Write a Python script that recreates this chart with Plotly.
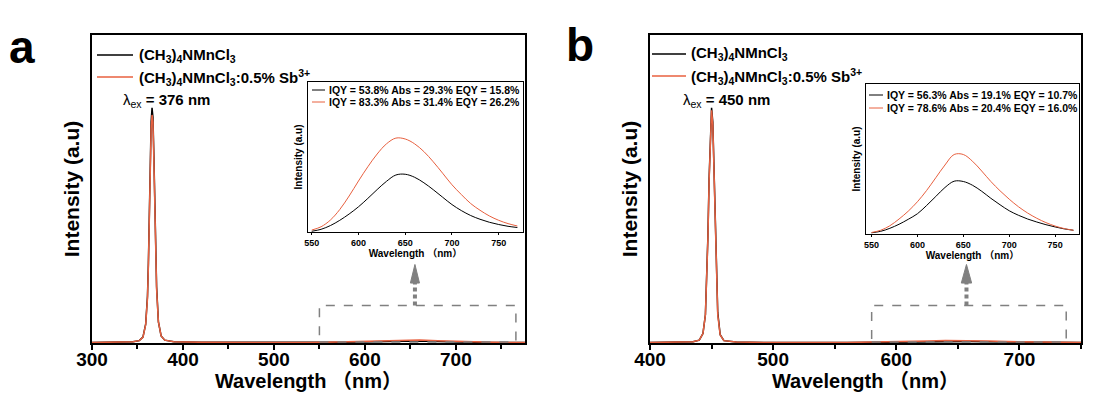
import plotly.graph_objects as go

# ---------------- data ----------------
# Panel a main spectra (excitation 376 nm)
wl_a = [300, 330, 345, 352, 356, 359, 361, 362, 363, 364, 365, 366, 367, 368, 369, 370, 371, 373, 376, 380,
        390, 420, 480, 540, 570, 590, 610, 630, 645, 660, 680, 700, 720, 740, 760, 776]
blk_a = [0.002, 0.003, 0.005, 0.01, 0.025, 0.08, 0.2, 0.34, 0.55, 0.78, 0.94, 1.0, 0.96, 0.8, 0.6, 0.4, 0.24, 0.09, 0.03, 0.012,
         0.005, 0.003, 0.002, 0.002, 0.003, 0.004, 0.006, 0.008, 0.009, 0.008, 0.006, 0.004, 0.003, 0.002, 0.002, 0.002]
red_a = [0.002, 0.003, 0.005, 0.01, 0.024, 0.078, 0.19, 0.33, 0.53, 0.75, 0.91, 0.97, 0.94, 0.78, 0.58, 0.39, 0.23, 0.09, 0.03, 0.012,
         0.005, 0.003, 0.002, 0.002, 0.004, 0.006, 0.01, 0.013, 0.014, 0.013, 0.01, 0.007, 0.005, 0.003, 0.002, 0.002]

# Panel b main spectra (excitation 450 nm)
wl_b = [400, 425, 435, 440, 443, 445, 446, 447, 448, 449, 450, 451, 452, 453, 454, 455, 457, 460, 470, 500,
        560, 590, 610, 625, 640, 650, 660, 675, 690, 710, 730, 750]
blk_b = [0.002, 0.003, 0.005, 0.012, 0.04, 0.12, 0.25, 0.45, 0.7, 0.9, 1.0, 0.94, 0.75, 0.5, 0.28, 0.13, 0.035, 0.01, 0.004, 0.002,
         0.002, 0.003, 0.004, 0.006, 0.007, 0.007, 0.006, 0.005, 0.004, 0.003, 0.002, 0.002]
red_b = [0.002, 0.003, 0.005, 0.012, 0.04, 0.12, 0.25, 0.44, 0.69, 0.89, 0.99, 0.93, 0.74, 0.49, 0.27, 0.12, 0.034, 0.01, 0.004, 0.002,
         0.002, 0.004, 0.006, 0.009, 0.011, 0.011, 0.01, 0.008, 0.006, 0.004, 0.003, 0.002]

# Inset emission spectra
wl_in = [550, 560, 570, 580, 590, 600, 610, 620, 630, 640, 650, 660, 670, 680, 690, 700, 710, 720, 730, 740, 750, 760, 770]
in_a_blk = [0.005, 0.018, 0.043, 0.078, 0.12, 0.168, 0.224, 0.283, 0.338, 0.38, 0.385, 0.365, 0.328, 0.282, 0.232, 0.183, 0.143, 0.11, 0.085, 0.065, 0.05, 0.038, 0.03]
in_a_red = [0.013, 0.035, 0.08, 0.15, 0.24, 0.34, 0.435, 0.52, 0.588, 0.626, 0.62, 0.588, 0.536, 0.468, 0.392, 0.315, 0.25, 0.19, 0.145, 0.107, 0.078, 0.056, 0.04]
in_b_blk = [0.008, 0.018, 0.038, 0.065, 0.098, 0.135, 0.19, 0.25, 0.31, 0.352, 0.35, 0.325, 0.285, 0.238, 0.195, 0.155, 0.125, 0.1, 0.08, 0.062, 0.047, 0.034, 0.025]
in_b_red = [0.01, 0.025, 0.055, 0.1, 0.152, 0.215, 0.29, 0.375, 0.46, 0.53, 0.53, 0.485, 0.42, 0.35, 0.288, 0.232, 0.182, 0.14, 0.105, 0.076, 0.053, 0.036, 0.025]

series_names = ["(CH<sub>3</sub>)<sub>4</sub>NMnCl<sub>3</sub>",
                "(CH<sub>3</sub>)<sub>4</sub>NMnCl<sub>3</sub>:0.5% Sb<sup>3+</sup>"]
qy_a = ["IQY = 53.8% Abs = 29.3% EQY = 15.8%", "IQY = 83.3% Abs = 31.4% EQY = 26.2%"]
qy_b = ["IQY = 56.3% Abs = 19.1% EQY = 10.7%", "IQY = 78.6% Abs = 20.4% EQY = 16.0%"]
lam_ex = ["376", "450"]

# ---------------- style ----------------
W, H = 1105, 412
FONT = "Liberation Sans, Arial, Noto Sans CJK SC, sans-serif"
BLACK = "#000000"
RED = "#E8603F"
GRAY = "#808080"


def px(x):
    return x / W


def py(y):
    return 1 - y / H


fig = go.Figure()

# main traces
fig.add_trace(go.Scatter(x=wl_a, y=blk_a, mode="lines", line=dict(color=BLACK, width=1.5), xaxis="x", yaxis="y", showlegend=False))
fig.add_trace(go.Scatter(x=wl_a, y=red_a, mode="lines", line=dict(color=RED, width=1.5), xaxis="x", yaxis="y", showlegend=False))
fig.add_trace(go.Scatter(x=wl_b, y=blk_b, mode="lines", line=dict(color=BLACK, width=1.5), xaxis="x3", yaxis="y3", showlegend=False))
fig.add_trace(go.Scatter(x=wl_b, y=red_b, mode="lines", line=dict(color=RED, width=1.5), xaxis="x3", yaxis="y3", showlegend=False))
# insets
fig.add_trace(go.Scatter(x=wl_in, y=in_a_blk, mode="lines", line=dict(color=BLACK, width=1, shape="spline"), xaxis="x2", yaxis="y2", showlegend=False))
fig.add_trace(go.Scatter(x=wl_in, y=in_a_red, mode="lines", line=dict(color=RED, width=1, shape="spline"), xaxis="x2", yaxis="y2", showlegend=False))
fig.add_trace(go.Scatter(x=wl_in, y=in_b_blk, mode="lines", line=dict(color=BLACK, width=1, shape="spline"), xaxis="x4", yaxis="y4", showlegend=False))
fig.add_trace(go.Scatter(x=wl_in, y=in_b_red, mode="lines", line=dict(color=RED, width=1, shape="spline"), xaxis="x4", yaxis="y4", showlegend=False))

main_y_dom = [py(343), py(35)]


def main_x(domain, rng, anchor):
    return dict(domain=domain, range=rng, anchor=anchor, showline=True, linewidth=2, linecolor=BLACK,
                mirror=True, ticks="outside", ticklen=5, tickwidth=1.5, tickcolor=BLACK, dtick=100,
                minor=dict(dtick=50, ticks="outside", ticklen=4, tickwidth=1.5, tickcolor=BLACK),
                tickfont=dict(family=FONT, size=19, color=BLACK, weight="bold"),
                ticklabelstandoff=-7, automargin=False,
                title=dict(text="Wavelength （nm）", font=dict(family=FONT, size=20, color=BLACK, weight="bold"), standoff=2),
                showgrid=False, zeroline=False)


def main_y(anchor, dom):
    return dict(domain=dom, range=[0, 1.31], anchor=anchor, showline=True, linewidth=2, linecolor=BLACK,
                mirror=True, ticks="", showticklabels=False, showgrid=False, zeroline=False, automargin=False,
                title=dict(text="Intensity (a.u)", font=dict(family=FONT, size=21, color=BLACK, weight="bold"), standoff=5))


def inset_x(domain, rng, anchor):
    return dict(domain=domain, range=rng, anchor=anchor, showline=True, linewidth=1.2, linecolor=BLACK,
                mirror=True, ticks="outside", ticklen=2, tickwidth=1, tickcolor=BLACK, dtick=50,
                tickfont=dict(family=FONT, size=9, color=BLACK, weight="bold"), ticklabelstandoff=0,
                automargin=False,
                title=dict(text="Wavelength （nm）", font=dict(family=FONT, size=10, color=BLACK, weight="bold"), standoff=1),
                showgrid=False, zeroline=False)


def inset_y(anchor, dom):
    return dict(domain=dom, range=[0, 1], anchor=anchor, showline=True, linewidth=1.2, linecolor=BLACK,
                mirror=True, ticks="", showticklabels=False, showgrid=False, zeroline=False, automargin=False,
                title=dict(text="Intensity (a.u)", font=dict(family=FONT, size=10, color=BLACK, weight="bold"), standoff=2))


fig.update_layout(
    template="none",
    width=W, height=H, margin=dict(l=0, r=0, t=0, b=0, pad=0, autoexpand=False),
    paper_bgcolor="white", plot_bgcolor="white",
    font=dict(family=FONT, color=BLACK),
    xaxis=main_x([px(92), px(525)], [300, 776], "y"),
    yaxis=main_y("x", main_y_dom),
    xaxis2=inset_x([px(308), px(523)], [546, 776], "y2"),
    yaxis2=inset_y("x2", [py(232), py(82)]),
    xaxis3=main_x([px(650), px(1081)], [400, 750], "y3"),
    yaxis3=main_y("x3", main_y_dom),
    xaxis4=inset_x([px(866), px(1079)], [544, 776], "y4"),
    yaxis4=inset_y("x4", [py(234), py(84)]),
)

annotations = []
shapes = []

# panel letters
annotations.append(dict(text="<b>a</b>", x=px(22), y=py(47), xref="paper", yref="paper", showarrow=False,
                        font=dict(family=FONT, size=46, color=BLACK), xanchor="center", yanchor="middle"))
annotations.append(dict(text="<b>b</b>", x=px(580), y=py(45), xref="paper", yref="paper", showarrow=False,
                        font=dict(family=FONT, size=46, color=BLACK), xanchor="center", yanchor="middle"))

# main legends
for (lx0, lx1, tx), rows in [((97, 133, 137), (55, 77)), ((652, 686, 689), (54, 76))]:
    for color, name, ry in zip([BLACK, RED], series_names, rows):
        shapes.append(dict(type="line", xref="paper", yref="paper", x0=px(lx0), x1=px(lx1), y0=py(ry), y1=py(ry),
                           line=dict(color=color, width=1.5)))
        annotations.append(dict(text="<b>" + name + "</b>", x=px(tx), y=py(ry), xref="paper", yref="paper",
                                showarrow=False, xanchor="left", yanchor="middle",
                                font=dict(family=FONT, size=15, color=BLACK)))

# lambda_ex labels
for lx, lam in [(121, lam_ex[0]), (681, lam_ex[1])]:
    annotations.append(dict(text="λ<sub>ex</sub><b> = " + lam + " nm</b>", x=px(lx), y=py(100), xref="paper", yref="paper",
                            showarrow=False, xanchor="left", yanchor="middle",
                            font=dict(family=FONT, size=15, color=BLACK)))

# inset legends
for (lx0, lx1, tx), rows, texts in [((312, 325, 327), (90, 102), qy_a), ((869, 883, 885), (95, 108), qy_b)]:
    for color, t, ry in zip([BLACK, RED], texts, rows):
        shapes.append(dict(type="line", xref="paper", yref="paper", x0=px(lx0), x1=px(lx1), y0=py(ry), y1=py(ry),
                           line=dict(color=color, width=1)))
        annotations.append(dict(text="<b>" + t + "</b>", x=px(tx), y=py(ry), xref="paper", yref="paper",
                                showarrow=False, xanchor="left", yanchor="middle",
                                font=dict(family=FONT, size=10.5, color=BLACK)))

# dashed zoom boxes and arrows
for xr, yr, x0, x1, xa, hw in [("x", "y", 550, 766, 655, 5), ("x3", "y3", 580, 738, 657, 4.2)]:
    shapes.append(dict(type="rect", xref=xr, yref=yr, x0=x0, x1=x1, y0=0.004, y1=0.159,
                       line=dict(color=GRAY, width=1.5, dash="dash")))
    shapes.append(dict(type="line", xref=xr, yref=yr, x0=xa, x1=xa, y0=0.159, y1=0.26,
                       line=dict(color=GRAY, width=4, dash="4px,3px")))
    shapes.append(dict(type="path", xref=xr, yref=yr,
                       path=f"M {xa - hw},0.255 L {xa + hw},0.255 L {xa},0.334 Z",
                       fillcolor=GRAY, line=dict(color=GRAY, width=1)))

fig.update_layout(annotations=annotations, shapes=shapes)

fig.write_html("out.html")
